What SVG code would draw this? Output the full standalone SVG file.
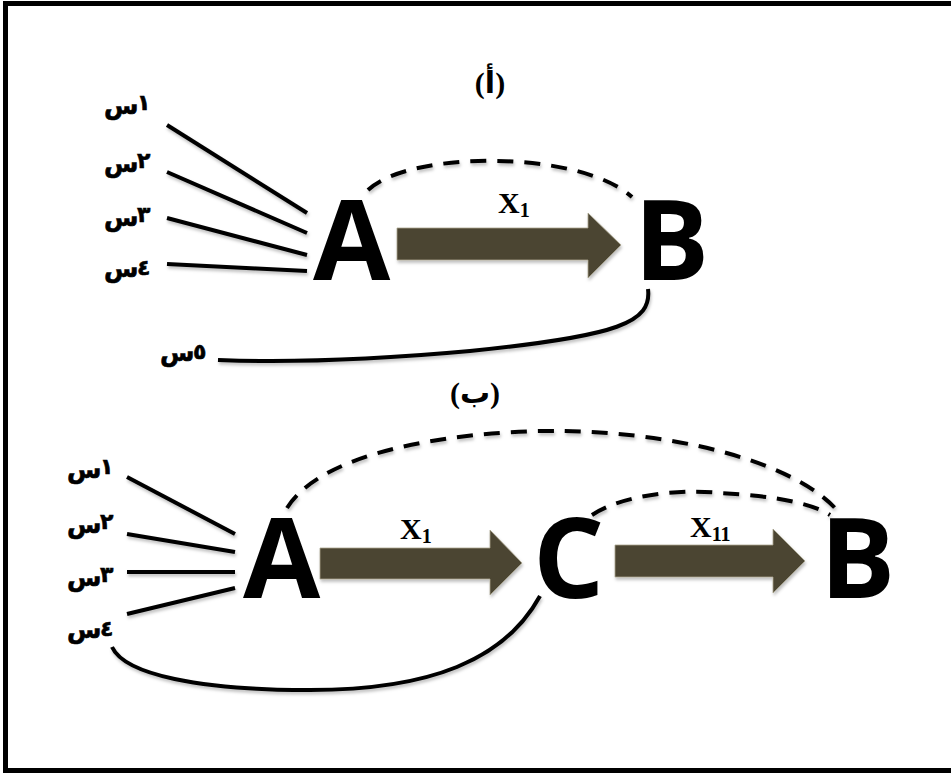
<svg xmlns="http://www.w3.org/2000/svg" width="951" height="775" viewBox="0 0 951 775">
  <style>
    .frame { fill: #ffffff; stroke: #000000; stroke-width: 5; }
    .link { fill: none; stroke: #000000; stroke-width: 4; stroke-linecap: butt; }
    .dash { fill: none; stroke: #000000; stroke-width: 4; stroke-dasharray: 16 11; }
    .flow { fill: #4c4530; stroke: #a9a48f; stroke-width: 0.8; }
    .node { font-family: "Open Sans", "DejaVu Sans", sans-serif; font-weight: 700; font-size: 112px; fill: #000000; }
    .var { font-family: "DejaVu Sans", "Noto Sans", sans-serif; font-weight: 700; font-size: 25px; fill: #000000; stroke: #000000; stroke-width: 0.6; }
    .num { font-size: 22px; }
    .cap { font-family: "Liberation Serif", "DejaVu Sans", serif; font-weight: 700; font-size: 30px; fill: #000000; }
    .lbl { font-family: "Liberation Serif", "Times New Roman", serif; font-weight: 700; font-size: 30px; fill: #000000; }
    .sub { font-size: 20px; }
  </style>
  <defs>
    <filter id="shade" x="-10%" y="-10%" width="120%" height="140%">
      <feDropShadow dx="1" dy="2.5" stdDeviation="1.5" flood-color="#000000" flood-opacity="0.25"/>
    </filter>
  </defs>

  <rect class="frame" x="5.5" y="3.5" width="950" height="767"/>

  <!-- panel (أ) -->
  <text class="cap" x="490" y="93" text-anchor="middle">(أ)</text>

  <!-- input variables: letter, then its index to the right -->
  <g id="top-inputs">
    <text class="var" x="104" y="114">س</text><text class="var num" x="137" y="110">١</text>
    <text class="var" x="104" y="172">س</text><text class="var num" x="137" y="168">٢</text>
    <text class="var" x="104" y="226">س</text><text class="var num" x="137" y="222">٣</text>
    <text class="var" x="104" y="277">س</text><text class="var num" x="137" y="275">٤</text>
    <text class="var" x="160" y="361">س</text><text class="var num" x="193" y="359">٥</text>
  </g>

  <g id="top-A"><text class="node" x="313" y="280">A</text></g>
  <g id="top-B"><text class="node" x="634" y="280">B</text></g>

  <g id="top-connectors" filter="url(#shade)">
    <line class="link" x1="167" y1="125" x2="307" y2="213"/>
    <line class="link" x1="167" y1="172" x2="307" y2="233"/>
    <line class="link" x1="167" y1="218" x2="307" y2="255"/>
    <line class="link" x1="167" y1="264" x2="307" y2="271"/>
    <path class="dash" d="M 368 190 C 410 150, 580 150, 632 197"/>
    <path class="link" d="M 648 289 C 652 322, 620 336, 470 351 C 360 361, 270 362, 218 360"/>
    <polygon class="flow" points="397,228 588,228 588,213 621,245 588,278 588,260 397,260"/>
  </g>
  <text class="lbl" x="498" y="213">X<tspan class="sub" dy="4">1</tspan></text>

  <!-- panel (ب) -->
  <text class="cap" x="475" y="403" text-anchor="middle">(ب)</text>

  <g id="bottom-inputs">
    <text class="var" x="67" y="478">س</text><text class="var num" x="100" y="474">١</text>
    <text class="var" x="67" y="533">س</text><text class="var num" x="100" y="529">٢</text>
    <text class="var" x="67" y="586">س</text><text class="var num" x="100" y="582">٣</text>
    <text class="var" x="67" y="638">س</text><text class="var num" x="100" y="636">٤</text>
  </g>

  <g id="bottom-A"><text class="node" x="243" y="598">A</text></g>
  <g id="bottom-C"><text class="node" x="533" y="598">C</text></g>
  <g id="bottom-B"><text class="node" x="820" y="598">B</text></g>

  <g id="bottom-connectors" filter="url(#shade)">
    <line class="link" x1="127" y1="477" x2="235" y2="534"/>
    <line class="link" x1="127" y1="534" x2="235" y2="552"/>
    <line class="link" x1="127" y1="572" x2="235" y2="572"/>
    <line class="link" x1="127" y1="614" x2="235" y2="588"/>
    <path class="dash" d="M 287 508 C 330 440, 500 430, 560 431 C 700 433, 800 470, 835 508"/>
    <path class="dash" d="M 592 515 C 630 490, 700 490, 720 493 C 780 496, 815 505, 830 515"/>
    <path class="link" d="M 540 596 C 505 660, 430 690, 310 690 C 200 690, 125 675, 112 647"/>
    <polygon class="flow" points="320,548 490,548 490,530 522,563 490,595 490,579 320,579"/>
    <polygon class="flow" points="615,545 773,545 773,529 805,561 773,593 773,577 615,577"/>
  </g>
  <text class="lbl" x="400" y="539">X<tspan class="sub" dy="4">1</tspan></text>
  <text class="lbl" x="690" y="537">X<tspan class="sub" dy="4">11</tspan></text>
</svg>
